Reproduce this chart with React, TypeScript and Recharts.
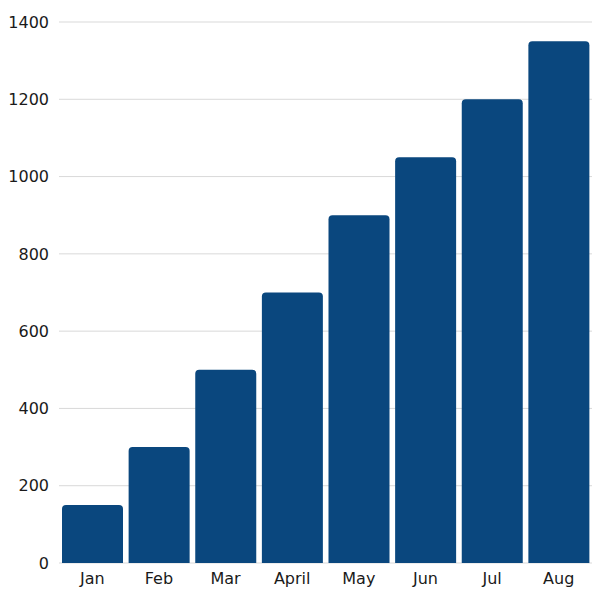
import { BarChart, Bar, XAxis, YAxis, CartesianGrid } from 'recharts'

const MONTHS = ['Jan', 'Feb', 'Mar', 'April', 'May', 'Jun', 'Jul', 'Aug']
const VALUES = [150, 300, 500, 700, 900, 1050, 1200, 1350]
const Y_TICKS = [0, 200, 400, 600, 800, 1000, 1200, 1400]

const BAR_COLOR = '#0a477e'
const TICK_STYLE = { fontSize: 16, fill: '#1a1a1a', fontFamily: 'DejaVu Sans' }

export default function App() {
  const data = MONTHS.map((m, i) => ({ month: m, value: VALUES[i] }))

  return (
    <div style={{ position: 'absolute', left: 0, top: 0, background: '#fff' }}>
      <BarChart
        width={600}
        height={600}
        data={data}
        margin={{ top: 22, right: 8, bottom: 0, left: 0 }}
        barCategoryGap={3}
      >
        <CartesianGrid vertical={false} stroke="#d9d9d9" />
        <XAxis
          dataKey="month"
          axisLine={false}
          tickLine={false}
          height={37}
          tickMargin={4}
          tick={TICK_STYLE}
        />
        <YAxis
          width={59}
          domain={[0, 1400]}
          ticks={Y_TICKS}
          axisLine={false}
          tickLine={false}
          tickMargin={4}
          tick={TICK_STYLE}
        />
        <Bar dataKey="value" fill={BAR_COLOR} radius={[4, 4, 0, 0]} isAnimationActive={false} />
      </BarChart>
    </div>
  )
}
